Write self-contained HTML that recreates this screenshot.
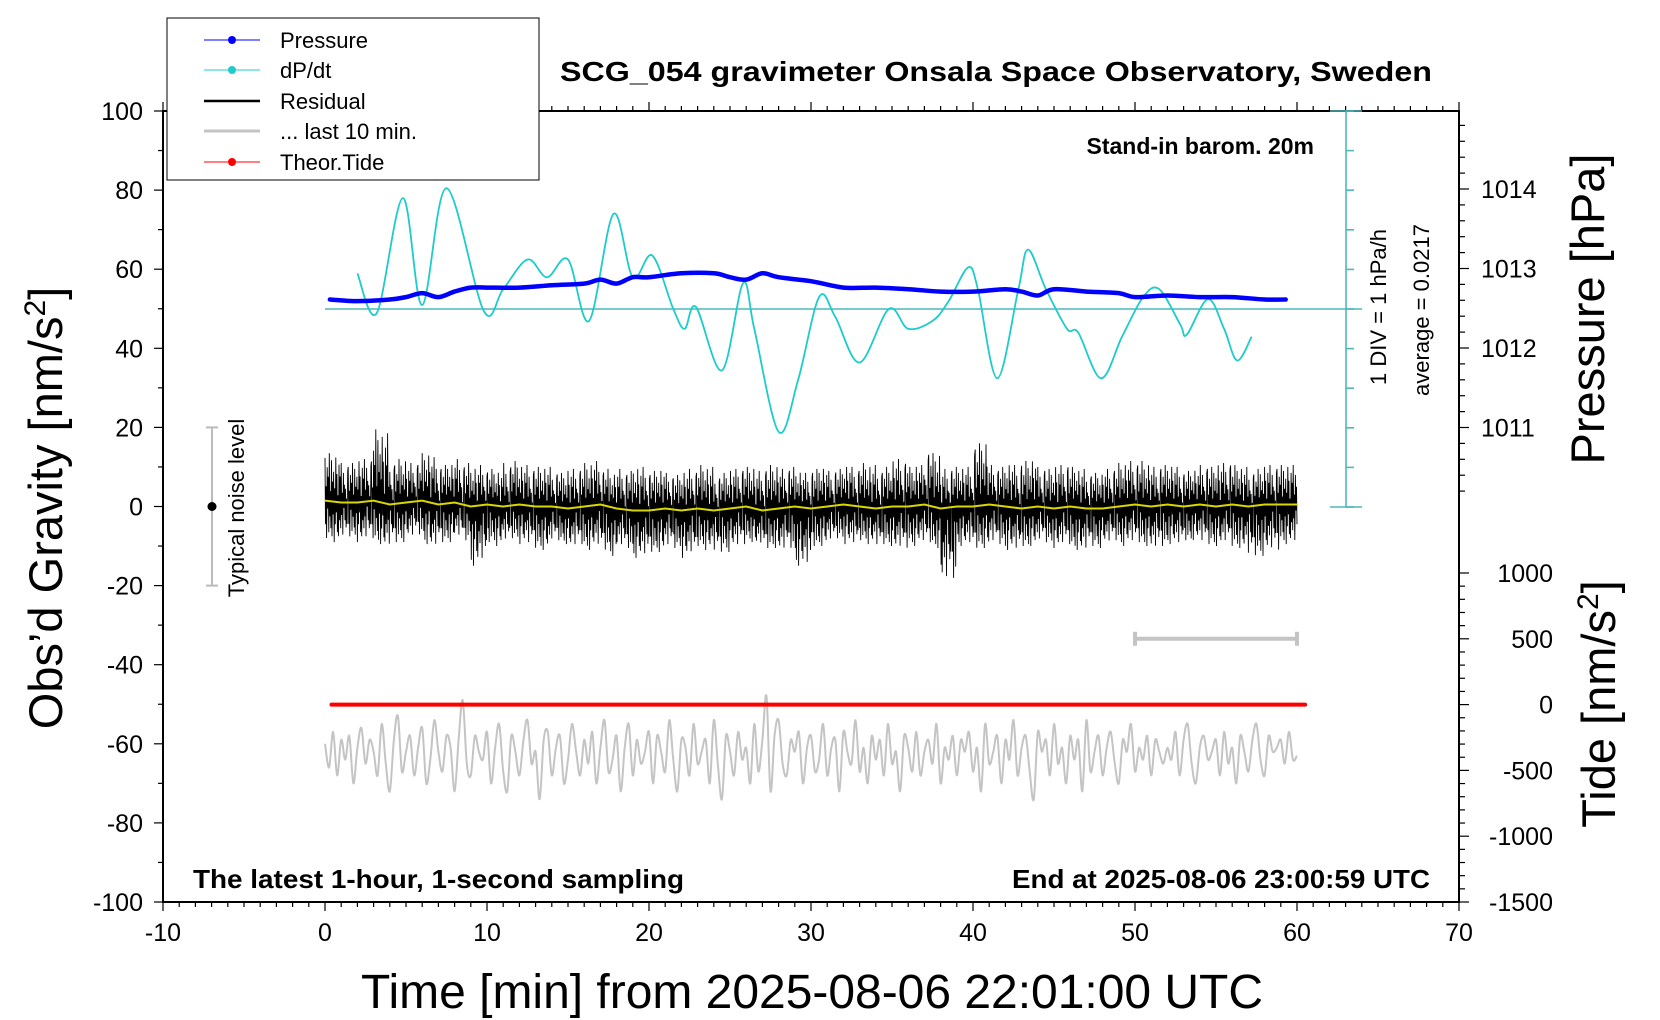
<!DOCTYPE html>
<html><head><meta charset="utf-8"><style>
html,body{margin:0;padding:0;background:#fff;}
svg{display:block;font-family:"Liberation Sans",Arial,sans-serif;}
</style></head><body>
<svg id="c" width="1660" height="1020" viewBox="0 0 1660 1020">
<g id="g"></g>
</svg>
<script>
// ---- data ----
const pressureTimes = [0.3,2,4,5,6,7,8,9,10,12,14,16,17,18,19,20,22,24,25,26,27,28,30,32,34,36,38,40,42,43,44,45,47,49,50,52,54,56,58,59.3];
const pressureHpa = [1012.61,1012.59,1012.61,1012.64,1012.69,1012.64,1012.71,1012.76,1012.76,1012.76,1012.79,1012.81,1012.86,1012.81,1012.89,1012.89,1012.94,1012.94,1012.89,1012.86,1012.94,1012.89,1012.84,1012.76,1012.76,1012.74,1012.71,1012.71,1012.74,1012.71,1012.66,1012.74,1012.71,1012.69,1012.64,1012.66,1012.64,1012.64,1012.61,1012.61];
const dpdtTimes = [2.0,3.2,4.8,6.0,7.5,9.8,11,12.5,13.7,15,16.3,17.8,19,20.2,21.5,22.2,22.9,24.5,25.8,26.5,28,29.2,30.5,31.5,33,34.8,36,37.5,38.5,39.7,40.3,41.5,42.8,43.4,44.5,45.8,46.5,47.9,49.2,50.5,51.5,52.8,53.2,54.5,55.5,56.3,57.2];
const dpdtValues = [0.9,-0.1,2.8,0.1,3.05,-0.05,0.5,1.25,0.8,1.25,-0.3,2.4,0.8,1.35,0.0,-0.5,0.05,-1.55,0.65,-0.5,-3.1,-1.8,0.3,-0.2,-1.35,0.0,-0.5,-0.3,0.2,1.05,0.5,-1.75,0.5,1.5,0.5,-0.5,-0.6,-1.75,-0.7,0.3,0.5,-0.4,-0.65,0.25,-0.5,-1.3,-0.7];
const residualUpper = [12,10,11,18,11,10,12,10,11,10,9,11,10,10,9,10,11,9,10,11,10,9,10,11,9,10,10,11,10,9,10,9,10,11,10,12,10,14,10,10,16,10,11,12,10,11,10,9,10,11,11,10,10,9,10,11,10,9,10,10];
const residualLower = [-10,-9,-10,-11,-10,-9,-11,-10,-9,-15,-10,-9,-10,-11,-9,-10,-11,-12,-10,-12,-11,-10,-12,-10,-11,-10,-9,-10,-11,-15,-10,-9,-10,-9,-10,-11,-10,-10,-19,-10,-11,-10,-11,-10,-9,-10,-11,-10,-9,-10,-10,-11,-10,-9,-10,-10,-11,-13,-12,-10];
const residualMean = [1.5,1,1,1.5,0.5,1,1.5,0.5,1,0,0.5,0,0.5,0,0,-0.5,0,0.5,-0.5,-1,-1,-0.5,-1,-0.5,-1,-0.5,0,-1,-0.5,0,-0.5,0,0.5,0,-0.5,0,0,0.5,-0.5,0,0,0.5,0,-0.5,0,-0.5,0,-0.5,-0.5,0,0.5,0,0.5,0,0.5,0,0.5,0,0.5,0.5,0.5];
const jitter = [0.9,-0.6,0.3,-0.95,0.7,-0.2,0.5,-0.8,1.0,-0.4,0.2,-0.7,0.85,-0.9,0.4,-0.3,0.65,-1.0,0.3,-0.55,0.95,-0.25,0.6,-0.75,0.15,-0.85,0.8,-0.45,0.55,-0.65,1.0,-0.35,0.25,-0.9,0.75,-0.15,0.45,-0.5,0.35,-0.7,0.1,-0.6,0.8];
const lastTenValues = [-60,-66,-57,-68,-59,-64,-58,-70,-61,-56,-65,-59,-62,-68,-55,-65,-72,-59,-53,-67,
-62,-58,-68,-61,-56,-70,-64,-54,-62,-67,-58,-61,-72,-59,-49,-65,-68,-58,-62,-64,
-57,-70,-61,-55,-67,-72,-58,-62,-68,-59,-54,-65,-62,-74,-59,-57,-68,-61,-58,-70,
-64,-55,-62,-68,-59,-65,-57,-70,-61,-54,-67,-64,-58,-72,-61,-55,-68,-59,-65,-62,
-57,-70,-58,-62,-67,-54,-64,-72,-59,-61,-68,-55,-65,-62,-59,-70,-54,-65,-74,-58,
-62,-68,-57,-64,-61,-70,-55,-67,-59,-48,-72,-58,-54,-65,-68,-59,-62,-57,-70,-61,
-58,-67,-64,-55,-68,-61,-59,-72,-57,-62,-65,-54,-67,-61,-70,-58,-64,-59,-68,-55,
-65,-62,-72,-58,-61,-67,-57,-68,-62,-59,-65,-55,-70,-61,-64,-58,-68,-59,-62,-57,
-67,-61,-72,-55,-65,-62,-58,-70,-59,-64,-54,-68,-61,-58,-67,-74,-57,-62,-59,-68,
-55,-65,-61,-70,-58,-64,-59,-72,-54,-67,-62,-58,-68,-61,-57,-65,-70,-59,-62,-55,
-67,-61,-64,-58,-68,-59,-62,-65,-61,-64,-57,-68,-59,-55,-65,-70,-61,-58,-64,-62,
-59,-68,-57,-65,-61,-70,-58,-62,-67,-59,-55,-64,-68,-58,-62,-61,-59,-65,-57,-64,-63];
const tideTimes = [0.4,10,20,30,40,50,60.5];
const tideValues = [0,0,0,0,0,0,0];
const xTicks = [-10,0,10,20,30,40,50,60,70];
const yTicks = [100,80,60,40,20,0,-20,-40,-60,-80,-100];
const pTicks = [1014,1013,1012,1011];
const tTicks = [1000,500,0,-500,-1000,-1500];

// ---- axes ----
const L=163,R=1459,T=111,B=902;
const X = t => 325 + (t)*16.2;
const Y = g => 506.5 - g*3.955;
const YP = p => 189 + (1014-p)*79.5;
const YT = v => 704.6 - v*0.1316;
const YD = d => 309 - d*39.6;

const NS="http://www.w3.org/2000/svg";
const root=document.getElementById('g');
function el(tag,attrs,parent){const e=document.createElementNS(NS,tag);for(const k in attrs)e.setAttribute(k,attrs[k]);(parent||root).appendChild(e);return e;}
function txt(s,attrs,parent){const e=el('text',attrs,parent);e.textContent=s;return e;}
function spline(pts){let d=`M${pts[0][0].toFixed(1)},${pts[0][1].toFixed(1)}`;for(let i=0;i<pts.length-1;i++){const p0=pts[i-1]||pts[i],p1=pts[i],p2=pts[i+1],p3=pts[i+2]||p2;const c1x=p1[0]+(p2[0]-p0[0])/6,c1y=p1[1]+(p2[1]-p0[1])/6,c2x=p2[0]-(p3[0]-p1[0])/6,c2y=p2[1]-(p3[1]-p1[1])/6;d+=`C${c1x.toFixed(1)},${c1y.toFixed(1)} ${c2x.toFixed(1)},${c2y.toFixed(1)} ${p2[0].toFixed(1)},${p2[1].toFixed(1)}`;}return d;}

// frame
let f=el('rect',{x:L,y:T,width:R-L,height:B-T,fill:'none',stroke:'#000','stroke-width':2});



// x ticks
const xt=el('g',{stroke:'#000','stroke-width':1.2});


for(let t=-10;t<=70;t++){const maj=t%10===0;const len=maj?9:5;el('line',{x1:X(t),y1:B,x2:X(t),y2:B+len},xt);el('line',{x1:X(t),y1:T,x2:X(t),y2:T-len},xt);}
xTicks.forEach(t=>{const e=txt(String(t),{x:X(t),y:B+39,'font-size':25,'text-anchor':'middle'});

});
// y ticks
const yt=el('g',{stroke:'#000','stroke-width':1.2});


for(let g=-100;g<=100;g+=10){const maj=g%20===0;el('line',{x1:L,y1:Y(g),x2:L-(maj?9:5),y2:Y(g)},yt);}
yTicks.forEach(g=>{const e=txt(String(g),{x:143,y:Y(g)+9,'font-size':25,'text-anchor':'end'});

});
// right pressure ticks
const pt=el('g',{stroke:'#000','stroke-width':1.2});


for(let i=0;;i++){const p=1015.0-i*0.2;const y=YP(p);if(y<T+3)continue;if(y>500)break;const maj=Math.abs(p-Math.round(p))<0.01;el('line',{x1:R,y1:y,x2:R+(maj?10:6),y2:y},pt);}
pTicks.forEach(p=>{const e=txt(String(p),{x:1481,y:YP(p)+9,'font-size':25});

});
// tide ticks
for(let v=-1500;v<=1000;v+=100){const maj=v%500===0;el('line',{x1:R,y1:YT(v),x2:R+(maj?10:6),y2:YT(v)},pt);}
tTicks.forEach(v=>{const e=txt(String(v),{x:1553,y:YT(v)+9,'font-size':25,'text-anchor':'end'});

});

// cyan dP/dt axis
const ca=el('g',{stroke:'#4fb8b8','stroke-width':1.6});


el('line',{x1:1346,y1:T,x2:1346,y2:507},ca);
el('line',{x1:1330,y1:T,x2:1362,y2:T},ca);
el('line',{x1:1330,y1:507,x2:1362,y2:507},ca);
for(let d=-5;d<=5;d++){el('line',{x1:1346,y1:YD(d),x2:1354,y2:YD(d)},ca);}
const zl=el('line',{x1:X(0),y1:YD(0),x2:1362,y2:YD(0),stroke:'#4fb8b8','stroke-width':1.6});



// gray last-10 line
const gp=lastTenValues.map((v,i)=>[X(i*60/(lastTenValues.length-1)),Y(v)]);
const gl=el('path',{d:spline(gp),fill:'none',stroke:'#c4c4c4','stroke-width':2});



// residual
let rd='';const N=1800;
for(let i=0;i<=N;i++){const t=i*60/N;const m=Math.min(59,Math.floor(t));const j=jitter[i%jitter.length];const base=residualMean[Math.min(60,Math.round(t))];const v=base+(j>0?j*residualUpper[m]:-j*residualLower[m]);rd+=(i?'L':'M')+X(t).toFixed(1)+','+Y(v).toFixed(1);}
const rl=el('path',{d:rd,fill:'none',stroke:'#000','stroke-width':0.9});


let yd='';residualMean.forEach((v,i)=>{yd+=(i?'L':'M')+X(i).toFixed(1)+','+Y(v).toFixed(1);});
const yl=el('path',{d:yd,fill:'none',stroke:'#d8d800','stroke-width':2});



// dP/dt
const dl=el('path',{d:spline(dpdtTimes.map((t,i)=>[X(t),YD(dpdtValues[i])])),fill:'none',stroke:'#1ecbcb','stroke-width':1.8});


// pressure
const pl=el('path',{d:spline(pressureTimes.map((t,i)=>[X(t),YP(pressureHpa[i])])),fill:'none',stroke:'#0000ff','stroke-width':4.5,'stroke-linecap':'round'});


// tide
let td='';tideTimes.forEach((t,i)=>{td+=(i?'L':'M')+X(t).toFixed(1)+','+YT(tideValues[i]).toFixed(1);});
const tl=el('path',{d:td,fill:'none',stroke:'#ff0000','stroke-width':4,'stroke-linecap':'round'});



// 10-min range bar
const eb=el('g',{stroke:'#c4c4c4','stroke-width':4});


el('line',{x1:X(50),y1:YT(500),x2:X(60),y2:YT(500)},eb);
el('line',{x1:X(50),y1:YT(500)-7,x2:X(50),y2:YT(500)+7},eb);
el('line',{x1:X(60),y1:YT(500)-7,x2:X(60),y2:YT(500)+7},eb);

// noise bar
const nb=el('g',{stroke:'#bbb','stroke-width':2});


el('line',{x1:212,y1:Y(20),x2:212,y2:Y(-20)},nb);
el('line',{x1:206,y1:Y(20),x2:218,y2:Y(20)},nb);
el('line',{x1:206,y1:Y(-20),x2:218,y2:Y(-20)},nb);
el('circle',{cx:212,cy:Y(0),r:4.5,fill:'#000',stroke:'none'},nb);
</script>

<script>
// static text labels and legend
(function(){
const NS="http://www.w3.org/2000/svg";const svg=document.getElementById('c');
function t(s,a,name){const e=document.createElementNS(NS,'text');for(const k in a)e.setAttribute(k,a[k]);e.textContent=s;


svg.appendChild(e);return e;}
t('SCG_054 gravimeter Onsala Space Observatory, Sweden',{x:560,y:81,'font-size':28,'font-weight':'bold',textLength:872,lengthAdjust:'spacingAndGlyphs'},'chart-title');
t('Stand-in barom. 20m',{x:1314,y:154,'font-size':23,'font-weight':'bold','text-anchor':'end'},'barometer-note');
t('The latest 1-hour, 1-second sampling',{x:193,y:888,'font-size':26,'font-weight':'bold',textLength:491,lengthAdjust:'spacingAndGlyphs'},'sampling-note');
t('End at 2025-08-06 23:00:59 UTC',{x:1012,y:888,'font-size':26,'font-weight':'bold',textLength:418,lengthAdjust:'spacingAndGlyphs'},'end-time-note');
t('Time [min] from 2025-08-06 22:01:00 UTC',{x:361,y:1008,'font-size':48,textLength:902,lengthAdjust:'spacingAndGlyphs'},'x-axis-title');
const yt=t('Obs\u2019d Gravity [nm/s',{x:0,y:0,'font-size':47,transform:'translate(62,508) rotate(-90)','text-anchor':'middle'},'y-axis-title');
const s1=document.createElementNS(NS,'tspan');s1.setAttribute('dy',-17);s1.setAttribute('font-size',30);s1.textContent='2';yt.appendChild(s1);
const s2=document.createElementNS(NS,'tspan');s2.setAttribute('dy',17);s2.textContent=']';yt.appendChild(s2);
t('Pressure [hPa]',{x:0,y:0,'font-size':47,transform:'translate(1604,309) rotate(-90)','text-anchor':'middle'},'pressure-axis-title');
const tt=t('Tide [nm/s',{x:0,y:0,'font-size':47,transform:'translate(1615,704) rotate(-90)','text-anchor':'middle'},'tide-axis-title');
const s3=document.createElementNS(NS,'tspan');s3.setAttribute('dy',-17);s3.setAttribute('font-size',30);s3.textContent='2';tt.appendChild(s3);
const s4=document.createElementNS(NS,'tspan');s4.setAttribute('dy',17);s4.textContent=']';tt.appendChild(s4);
t('1 DIV = 1 hPa/h',{x:0,y:0,'font-size':22,transform:'translate(1386,307) rotate(-90)','text-anchor':'middle'},'dpdt-scale-label');
t('average = 0.0217',{x:0,y:0,'font-size':22,transform:'translate(1429,310) rotate(-90)','text-anchor':'middle'},'dpdt-average-label');
t('Typical noise level',{x:0,y:0,'font-size':22,transform:'translate(244,508) rotate(-90)','text-anchor':'middle'},'typical-noise-label');

// legend
const lg=document.createElementNS(NS,'g');


svg.appendChild(lg);
const box=document.createElementNS(NS,'rect');
box.setAttribute('x',167);box.setAttribute('y',18);box.setAttribute('width',372);box.setAttribute('height',162);box.setAttribute('fill','#fff');box.setAttribute('stroke','#000');box.setAttribute('stroke-width',1);
lg.appendChild(box);
const entries=[['Pressure','#0000ff',1,true],['dP/dt','#1ecbcb',1,true],['Residual','#000',2.5,false],['... last 10 min.','#c4c4c4',3,false],['Theor.Tide','#ff0000',1,true]];
const ys=[40,70,101,131,162];
entries.forEach((en,i)=>{const g=document.createElementNS(NS,'g');


lg.appendChild(g);
const l=document.createElementNS(NS,'line');l.setAttribute('x1',204);l.setAttribute('x2',260);l.setAttribute('y1',ys[i]);l.setAttribute('y2',ys[i]);l.setAttribute('stroke',en[1]);l.setAttribute('stroke-width',en[2]);g.appendChild(l);
if(en[3]){const c=document.createElementNS(NS,'circle');c.setAttribute('cx',232);c.setAttribute('cy',ys[i]);c.setAttribute('r',4);c.setAttribute('fill',en[1]);g.appendChild(c);}
const tx=document.createElementNS(NS,'text');tx.setAttribute('x',280);tx.setAttribute('y',ys[i]+8);tx.setAttribute('font-size',22);tx.textContent=en[0];g.appendChild(tx);});
})();
</script>
</body></html>
